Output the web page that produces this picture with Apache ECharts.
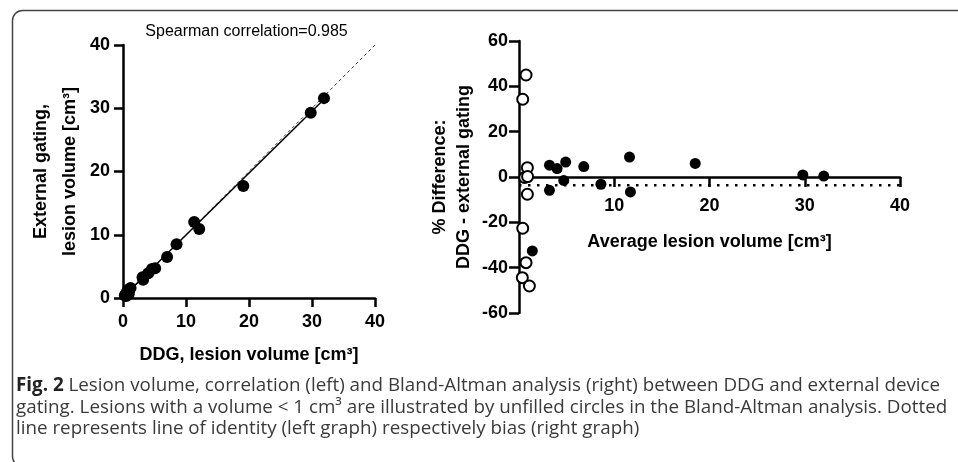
<!DOCTYPE html>
<html>
<head>
<meta charset="utf-8">
<script src="https://cdn.jsdelivr.net/npm/echarts@6/dist/echarts.min.js"></script>
<style>
html,body{margin:0;padding:0;background:#fff;}
#c{width:958px;height:462px;}
</style>
</head>
<body>
<div id="c"></div>
<script>
// ---- Left: correlation (DDG vs external gating), cm^3 ----
var corrPoints = [
  [31.9, 31.6], [29.8, 29.3], [19.1, 17.7], [11.3, 12.0], [12.1, 10.9],
  [8.5, 8.5], [7.0, 6.5], [5.1, 4.7], [4.6, 4.6], [4.0, 3.9], [3.1, 3.3], [3.2, 2.9],
  [1.2, 1.6], [0.9, 0.6], [0.5, 0.3], [0.9, 0.9], [0.6, 0.6], [0.8, 0.8],
  [0.85, 0.9], [0.35, 0.45], [0.6, 0.9], [0.3, 0.4], [0.8, 1.3]
];
var identityLine = [[0, 0], [40, 40]];
var regressionLine = [[0, 0.15], [32.4, 31.9]];

// ---- Right: Bland-Altman (average volume, % difference) ----
var baFilled = [
  [1.4, -32.6], [3.2, 5.2], [3.2, -5.9], [4.0, 3.7], [4.9, 6.6], [4.7, -1.5],
  [6.8, 4.6], [8.6, -3.2], [11.6, 8.8], [11.7, -6.6], [18.5, 6.0], [29.8, 0.9], [32.0, 0.4]
];
var baOpen = [
  [0.74, 45.0], [0.39, 34.3], [0.88, 4.1], [0.6, -0.2], [0.9, 0.2],
  [0.88, -7.6], [0.39, -22.6], [0.74, -37.8], [0.35, -44.4], [1.09, -48.1]
];
var biasValue = -3.6;
var biasLine = [[0, biasValue], [40, biasValue]];

var leftTicks = {min: 0, max: 40, interval: 10};
var rightXTicks = {min: 0, max: 40, interval: 10};
var rightYTicks = {min: -60, max: 60, interval: 20};

var captionLines = [
  "{b|Fig. 2} Lesion volume, correlation (left) and Bland-Altman analysis (right) between DDG and external device",
  "gating. Lesions with a volume < 1 cm\u00b3 are illustrated by unfilled circles in the Bland-Altman analysis. Dotted",
  "line represents line of identity (left graph) respectively bias (right graph)"
];

var F = 'Liberation Sans, Arial, sans-serif';
var lbl = {fontFamily: F, fontWeight: 'bold', fontSize: 18, color: '#000'};
var axLine = {show: true, onZero: false, lineStyle: {color: '#000', width: 2.5}};
var nameStyle = {fontFamily: F, fontWeight: 'bold', fontSize: 18, color: '#000'};
var tick = function (len) { return {show: true, length: len, lineStyle: {color: '#000', width: 2.5}}; };

var rightGrid = {left: 519, top: 41, width: 381, height: 272};
// x axis of the Bland-Altman plot sits at y = 0 (middle of the grid)
var rightXOffset = -rightGrid.height / 2;

var chart = echarts.init(document.getElementById('c'), null, {renderer: 'canvas'});
chart.setOption({
  animation: false,
  grid: [
    {left: 123, top: 45, width: 252, height: 253},
    rightGrid
  ],
  xAxis: [
    {
      gridIndex: 0, type: 'value', min: leftTicks.min, max: leftTicks.max, interval: leftTicks.interval,
      splitLine: {show: false}, axisLine: axLine, axisTick: tick(9),
      axisLabel: Object.assign({margin: 15}, lbl),
      name: 'DDG, lesion volume [cm\u00b3]', nameLocation: 'middle', nameGap: 48,
      nameTextStyle: nameStyle
    },
    {
      gridIndex: 1, type: 'value', min: rightXTicks.min, max: rightXTicks.max, interval: rightXTicks.interval,
      position: 'bottom', offset: rightXOffset,
      splitLine: {show: false}, axisLine: axLine, axisTick: tick(10),
      axisLabel: Object.assign({margin: 20, showMinLabel: false}, lbl),
      name: 'Average lesion volume [cm\u00b3]', nameLocation: 'middle', nameGap: 56,
      nameTextStyle: nameStyle
    }
  ],
  yAxis: [
    {
      gridIndex: 0, type: 'value', min: leftTicks.min, max: leftTicks.max, interval: leftTicks.interval,
      splitLine: {show: false}, axisLine: axLine, axisTick: tick(9),
      axisLabel: Object.assign({margin: 13}, lbl),
      name: 'External gating,\nlesion volume [cm\u00b3]', nameLocation: 'middle', nameGap: 38,
      nameTextStyle: Object.assign({lineHeight: 29}, nameStyle)
    },
    {
      gridIndex: 1, type: 'value', min: rightYTicks.min, max: rightYTicks.max, interval: rightYTicks.interval,
      splitLine: {show: false}, axisLine: axLine, axisTick: tick(10),
      axisLabel: Object.assign({margin: 11}, lbl),
      name: '% Difference:\nDDG - external gating', nameLocation: 'middle', nameGap: 43,
      nameTextStyle: Object.assign({lineHeight: 24}, nameStyle)
    }
  ],
  series: [
    {
      type: 'line', xAxisIndex: 0, yAxisIndex: 0, data: identityLine, symbol: 'none',
      lineStyle: {color: '#333', width: 1, type: [3, 3]}, silent: true, z: 1
    },
    {
      type: 'line', xAxisIndex: 0, yAxisIndex: 0, data: regressionLine, symbol: 'none',
      lineStyle: {color: '#000', width: 1.5}, silent: true, z: 2
    },
    {
      type: 'scatter', xAxisIndex: 0, yAxisIndex: 0, data: corrPoints, symbolSize: 12,
      itemStyle: {color: '#000', opacity: 1}, clip: false, z: 3
    },
    {
      type: 'line', xAxisIndex: 1, yAxisIndex: 1, data: biasLine, symbol: 'none',
      lineStyle: {color: '#000', width: 2.5, type: [2.5, 6.5]}, silent: true, z: 1
    },
    {
      type: 'scatter', xAxisIndex: 1, yAxisIndex: 1, data: baFilled, symbolSize: 11,
      itemStyle: {color: '#000', opacity: 1}, clip: false, z: 3
    },
    {
      type: 'scatter', xAxisIndex: 1, yAxisIndex: 1, data: baOpen, symbolSize: 11,
      itemStyle: {color: '#fff', borderColor: '#000', borderWidth: 2, opacity: 1}, clip: false, z: 4
    }
  ],
  graphic: [
    {
      type: 'rect', left: 10, top: 8, z: -10,
      shape: {width: 1000, height: 456, r: 10},
      style: {fill: 'none', stroke: '#444', lineWidth: 1.5}
    },
    {
      type: 'text', x: 246.5, y: 32,
      style: {text: 'Spearman correlation=0.985', font: '16px ' + F, fill: '#000', textAlign: 'center', textVerticalAlign: 'middle'}
    },
    {
      type: 'text', x: 16, y: 375,
      style: {
        text: captionLines.join('\n'),
        fontFamily: 'Open Sans', fontSize: 18.8, lineHeight: 21.5, fill: '#3a3a3a',
        rich: {b: {fontFamily: 'Open Sans', fontWeight: 'bold', fontSize: 18.8, lineHeight: 21.5, fill: '#222'}}
      }
    }
  ]
});
</script>
</body>
</html>
